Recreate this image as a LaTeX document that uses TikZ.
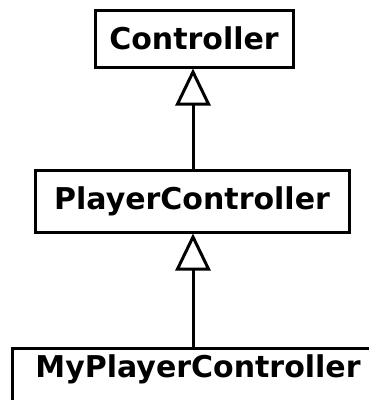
\documentclass[tikz,border=0pt]{standalone}
\usepackage{fontspec}
\setmainfont{DejaVu Sans}
\usetikzlibrary{arrows.meta}
\begin{document}
\begin{tikzpicture}[x=1pt,y=-1pt,
  classbox/.style={draw,line width=3pt,inner sep=0pt,font=\fontsize{30}{32}\selectfont\bfseries,anchor=center},
  inherit/.style={line width=3pt,-{Triangle[open,width=35pt,length=37pt,line width=3pt]}}]
  \useasboundingbox (0,0) rectangle (369,400);
  \clip (0,0) rectangle (369,400);
  \node[classbox,minimum width=198pt,minimum height=57pt] (ctrl) at (194,38.5) {Controller};
  \node[classbox,minimum width=314pt,minimum height=62pt] (pc) at (192,201) {PlayerController};
  \node[classbox,minimum width=372pt,minimum height=62pt,text depth=26pt] (mpc) at (198,379) {MyPlayerController};
  \draw[inherit] (mpc.north -| 193,0) -- (pc.south -| 193,0);
  \draw[inherit] (pc.north -| 193,0) -- (ctrl.south -| 193,0);
\end{tikzpicture}
\end{document}
